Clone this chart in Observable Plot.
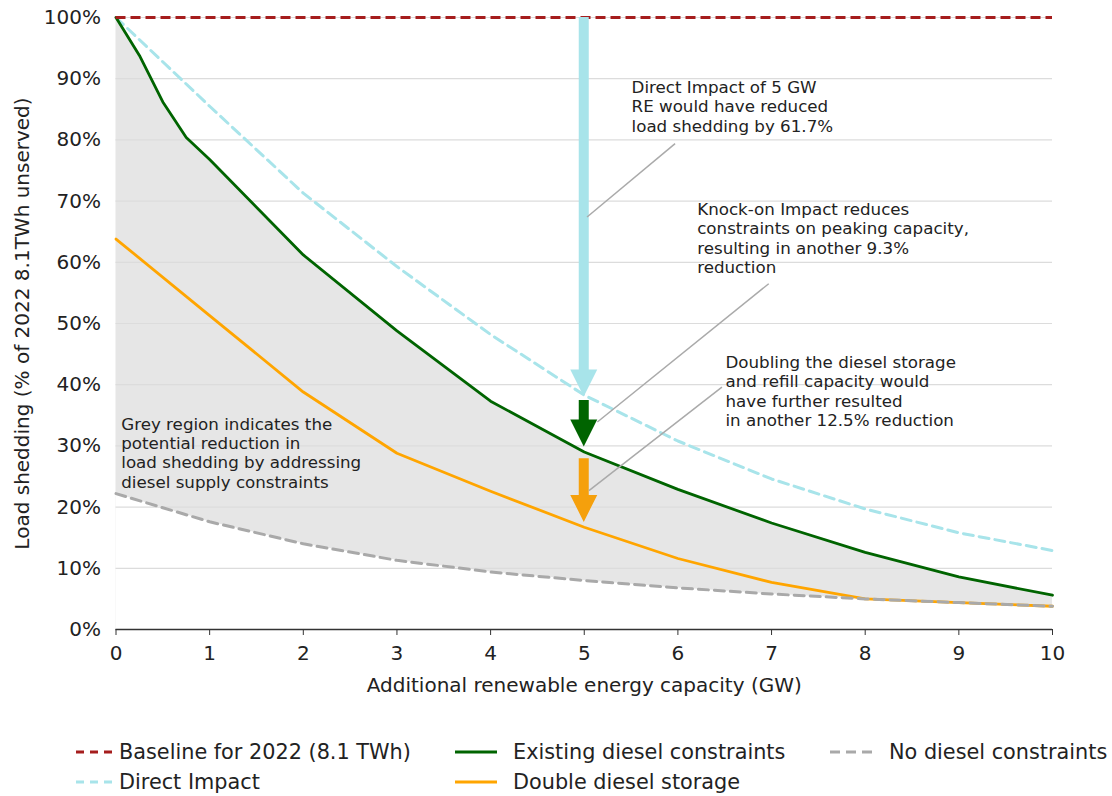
<!DOCTYPE html>
<html><head><meta charset="utf-8">
<script src="https://cdn.jsdelivr.net/npm/d3@7"></script>
<script src="https://cdn.jsdelivr.net/npm/@observablehq/plot@0.6"></script>
<style>
body{margin:0;background:#fff;font-family:"DejaVu Sans",sans-serif;}
#wrap{position:relative;width:1112px;height:796px;overflow:hidden;}
#chart svg{display:block;}
#legend{position:absolute;left:0;top:712px;width:1112px;height:84px;}
.item{position:absolute;display:flex;align-items:center;font-size:20.8px;color:#222;white-space:nowrap;height:30px;}
</style></head><body><div id="wrap"><div id="chart"></div><div id="legend"></div></div>
<script>
// ---- data ----
const gwFine = [0, 0.25, 0.5, 0.75, 1, 2, 3, 4, 5, 6, 7, 8, 9, 10];
const existingDiesel = [100, 93.8, 86.2, 80.4, 76.8, 61.2, 48.8, 37.3, 29.0, 22.9, 17.4, 12.6, 8.6, 5.6];
const gw = [0, 1, 2, 3, 4, 5, 6, 7, 8, 9, 10];
const doubleStorage = [63.8, 51.3, 38.8, 28.8, 22.6, 16.7, 11.6, 7.7, 5.0, 4.4, 3.8];
const noDiesel = [22.2, 17.6, 14.0, 11.3, 9.4, 8.0, 6.8, 5.8, 5.0, 4.4, 3.8];
const directImpact = [100, 85.5, 71.3, 59.3, 48.2, 38.3, 30.8, 24.6, 19.7, 15.8, 12.9];
const baseline = 100;
const yTicks = [0, 10, 20, 30, 40, 50, 60, 70, 80, 90, 100];
const xTicks = [0, 1, 2, 3, 4, 5, 6, 7, 8, 9, 10];
const arrowAt = 5;
const arrowFrom = [100, 37.4, 27.9];
const arrowTo = [38.0, 29.8, 17.5];
const arrowColors = ["#a8e4ea", "#006400", "#f5a00c"];

const annotationText = [
  "Direct Impact of 5 GW\nRE would have reduced\nload shedding by 61.7%",
  "Knock-on Impact reduces\nconstraints on peaking capacity,\nresulting in another 9.3%\nreduction",
  "Doubling the diesel storage\nand refill capacity would\nhave further resulted\nin another 12.5% reduction",
  "Grey region indicates the\npotential reduction in\nload shedding by addressing\ndiesel supply constraints"
];
const annotationX = [5.505, 6.206, 6.508, 0.056];
const annotationY = [89.9, 69.95, 44.95, 34.85];
const leaderX1 = [5.03, 5.14, 5.05];
const leaderY1 = [67.4, 33.9, 22.7];
const leaderX2 = [5.97, 6.97, 6.47];
const leaderY2 = [79.4, 56.5, 39.6];

const seriesNames = ["Baseline for 2022 (8.1 TWh)", "Direct Impact", "Existing diesel constraints", "Double diesel storage", "No diesel constraints"];
const seriesColors = ["#a51d1d", "#a8e4ea", "#006400", "#ffa500", "#a9a9a9"];

// ---- tables ----
const existingRows = gwFine.map((x, i) => ({x, y: existingDiesel[i]}));
const toRows = arr => gw.map((x, i) => ({x, y: arr[i]}));
const doubleRows = toRows(doubleStorage);
const noDieselRows = toRows(noDiesel);
const directRows = toRows(directImpact);
const annotations = annotationText.map((t, i) => ({t, x: annotationX[i], y: annotationY[i]}));
const leaders = leaderX1.map((x1, i) => ({x1, y1: leaderY1[i], x2: leaderX2[i], y2: leaderY2[i]}));
const arrows = arrowFrom.map((f, i) => ({x: arrowAt, from: f, to: arrowTo[i], color: arrowColors[i]}));

function arrowMark(data) {
  return (index, scales) => {
    const g = d3.create("svg:g");
    for (const a of data) {
      const x = scales.x(a.x), y0 = scales.y(a.from), y1 = scales.y(a.to);
      const sw = 5, hw = 13.5, hh = 27;
      const p = `M${x - sw},${y0}L${x + sw},${y0}L${x + sw},${y1 - hh}L${x + hw},${y1 - hh}L${x},${y1}L${x - hw},${y1 - hh}L${x - sw},${y1 - hh}Z`;
      g.append("path").attr("d", p).attr("fill", a.color);
    }
    return g.node();
  };
}

const font = '"DejaVu Sans", sans-serif';
const plot = Plot.plot({
  width: 1112, height: 712,
  marginLeft: 115.5, marginRight: 60, marginTop: 17, marginBottom: 83,
  style: {fontFamily: font, fontSize: "20px", color: "#222", background: "#fff"},
  x: {domain: [0, 10]},
  y: {domain: [0, 100]},
  marks: [
    Plot.areaY(existingRows, {x: "x", y: "y", fill: "#e6e6e6"}),
    Plot.areaY(noDieselRows, {x: "x", y: "y", fill: "#ffffff"}),
    Plot.ruleY(yTicks.filter(d => d > 0), {stroke: "#dcdcdc", strokeWidth: 1.2}),
    Plot.axisY({ticks: yTicks, tickSize: 0, tickPadding: 15, tickFormat: d => d + "%", fontSize: 20,
      label: "Load shedding (% of 2022 8.1TWh unserved)", labelAnchor: "center", labelArrow: "none", labelOffset: 101}),
    Plot.axisX({ticks: xTicks, tickSize: 6, tickPadding: 10, fontSize: 20, stroke: "#333",
      label: "Additional renewable energy capacity (GW)", labelAnchor: "center", labelArrow: "none", labelOffset: 62}),
    Plot.ruleY([0], {stroke: "#333", strokeWidth: 1.5}),
    Plot.line(directRows, {x: "x", y: "y", stroke: seriesColors[1], strokeWidth: 3, strokeDasharray: "10,6"}),
    Plot.line(existingRows, {x: "x", y: "y", stroke: seriesColors[2], strokeWidth: 2.8}),
    Plot.line(doubleRows, {x: "x", y: "y", stroke: seriesColors[3], strokeWidth: 2.8}),
    Plot.line(noDieselRows, {x: "x", y: "y", stroke: seriesColors[4], strokeWidth: 3, strokeDasharray: "10,6"}),
    Plot.ruleY([baseline], {stroke: seriesColors[0], strokeWidth: 3, strokeDasharray: "10,5"}),
    arrowMark(arrows),
    Plot.link(leaders, {x1: "x1", y1: "y1", x2: "x2", y2: "y2", stroke: "#aaaaaa", strokeWidth: 1.5}),
    Plot.text(annotations, {x: "x", y: "y", text: "t", textAnchor: "start", lineAnchor: "top", fontSize: 16.7, lineHeight: 1.155, fill: "#222"})
  ]
});
document.getElementById("chart").append(plot);

// ---- legend ----
const legendItems = [
  {i: 0, left: 76, top: 25, w: 36, gap: 7, dash: "8,6"},
  {i: 1, left: 76, top: 55, w: 36, gap: 7, dash: "8,6"},
  {i: 2, left: 455, top: 25, w: 42, gap: 16, dash: null},
  {i: 3, left: 455, top: 55, w: 42, gap: 16, dash: null},
  {i: 4, left: 830, top: 25, w: 42, gap: 17, dash: "10,6"}
];
const legend = document.getElementById("legend");
for (const it of legendItems) {
  const div = document.createElement("div");
  div.className = "item";
  div.style.left = it.left + "px";
  div.style.top = it.top + "px";
  div.innerHTML = `<svg width="${it.w}" height="10" style="margin-right:${it.gap}px"><line x1="0" x2="${it.w}" y1="5" y2="5" stroke="${seriesColors[it.i]}" stroke-width="3" ${it.dash ? `stroke-dasharray="${it.dash}"` : ""}/></svg><span>${seriesNames[it.i]}</span>`;
  legend.append(div);
}
</script></body></html>
